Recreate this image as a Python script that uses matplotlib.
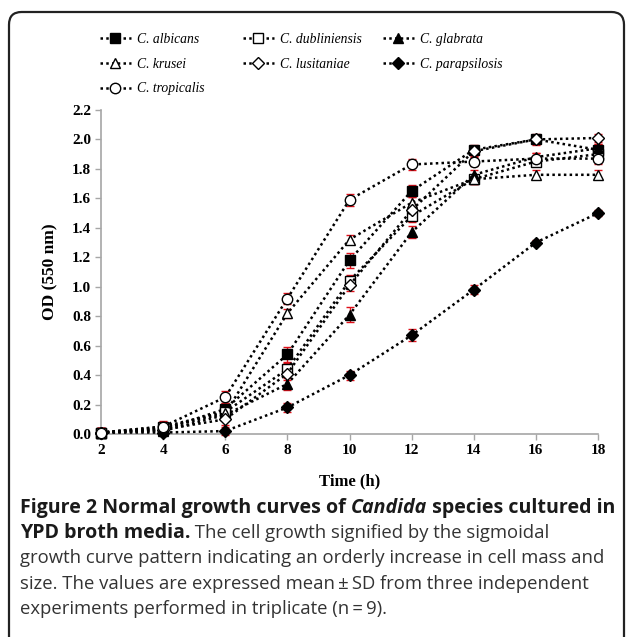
import numpy as np
import matplotlib
matplotlib.use("Agg")
from matplotlib import pyplot as plt
from matplotlib.patches import FancyBboxPatch

# time points (h)
hours = [2, 4, 6, 8, 10, 12, 14, 16, 18]

# mean OD (550 nm) per species
albicans     = [0.01, 0.03, 0.17, 0.54, 1.18, 1.65, 1.93, 2.00, 1.93]
dubliniensis = [0.01, 0.05, 0.15, 0.44, 1.04, 1.48, 1.73, 1.85, 1.90]
glabrata     = [0.01, 0.02, 0.13, 0.34, 0.81, 1.37, 1.76, 1.88, 1.94]
krusei       = [0.01, 0.04, 0.14, 0.82, 1.32, 1.57, 1.73, 1.76, 1.76]
lusitaniae   = [0.01, 0.03, 0.10, 0.41, 1.01, 1.52, 1.92, 2.00, 2.01]
parapsilosis = [0.01, 0.01, 0.02, 0.18, 0.40, 0.67, 0.98, 1.30, 1.50]
tropicalis   = [0.01, 0.05, 0.25, 0.92, 1.59, 1.83, 1.85, 1.87, 1.87]

# standard deviations
sd_albicans     = [0.03, 0.03, 0.04, 0.05, 0.05, 0.04, 0.03, 0.04, 0.04]
sd_dubliniensis = [0.03, 0.03, 0.03, 0.04, 0.04, 0.04, 0.03, 0.03, 0.03]
sd_glabrata     = [0.03, 0.03, 0.03, 0.04, 0.05, 0.04, 0.03, 0.03, 0.03]
sd_krusei       = [0.03, 0.03, 0.03, 0.03, 0.03, 0.04, 0.03, 0.03, 0.03]
sd_lusitaniae   = [0.03, 0.03, 0.04, 0.04, 0.04, 0.04, 0.03, 0.03, 0.03]
sd_parapsilosis = [0.02, 0.02, 0.03, 0.03, 0.03, 0.04, 0.03, 0.02, 0.02]
sd_tropicalis   = [0.03, 0.04, 0.04, 0.04, 0.04, 0.04, 0.03, 0.04, 0.04]

names = ["C. albicans", "C. dubliniensis", "C. glabrata", "C. krusei",
         "C. lusitaniae", "C. parapsilosis", "C. tropicalis"]
means = [albicans, dubliniensis, glabrata, krusei, lusitaniae, parapsilosis, tropicalis]
sds = [sd_albicans, sd_dubliniensis, sd_glabrata, sd_krusei, sd_lusitaniae,
       sd_parapsilosis, sd_tropicalis]
# marker, face colour, size
styles = [("s", "black", 7), ("s", "white", 7), ("^", "black", 7.5), ("^", "white", 7.5),
          ("D", "white", 6.5), ("D", "black", 6.5), ("o", "white", 7.5)]

y_ticks = [0.0, 0.2, 0.4, 0.6, 0.8, 1.0, 1.2, 1.4, 1.6, 1.8, 2.0, 2.2]
x_ticks = [2, 4, 6, 8, 10, 12, 14, 16, 18]

W, H = 629, 637
fig = plt.figure(figsize=(W / 100, H / 100), dpi=100)
ax = fig.add_axes([101 / W, 1 - 434 / H, (598 - 101) / W, (434 - 110) / H])

serif = "Liberation Serif"
grey = "#a6a6a6"

handles = []
for name, m, s, st in zip(names, means, sds, styles):
    ax.errorbar(hours, m, yerr=s, fmt="none", ecolor="#e0101a", elinewidth=1.0,
                capsize=3, capthick=1.0, zorder=2, clip_on=False)
    ln, = ax.plot(hours, m, linestyle=(0, (1, 1.3)), linewidth=1.8, color="black",
                  marker=st[0], markerfacecolor=st[1], markeredgecolor="black",
                  markeredgewidth=1.0, markersize=st[2], label=name, zorder=3,
                  clip_on=False)
    handles.append(ln)

ax.set_xlim(2, 18)
ax.set_ylim(0, 2.2)
ax.set_xticks(x_ticks)
ax.set_yticks(y_ticks)
ax.set_yticklabels(["%.1f" % v for v in y_ticks])
for sp in ["top", "right"]:
    ax.spines[sp].set_visible(False)
for sp in ["left", "bottom"]:
    ax.spines[sp].set_color(grey)
    ax.spines[sp].set_linewidth(1.2)
ax.tick_params(axis="both", direction="out", length=4, width=1, color=grey,
               labelsize=11, pad=3)
for lab in ax.get_xticklabels() + ax.get_yticklabels():
    lab.set_fontfamily(serif)
    lab.set_fontweight("bold")

ax.set_xlabel("Time (h)", fontfamily=serif, fontweight="bold", fontsize=12, labelpad=12)
ax.set_ylabel("OD (550 nm)", fontfamily=serif, fontweight="bold", fontsize=12.5, labelpad=10)

# legend: one column per legend box so columns sit at fixed places
col_x = [90, 233, 373]
cols = [[0, 3, 6], [1, 4], [2, 5]]
for cx, idx in zip(col_x, cols):
    fig.legend([handles[i] for i in idx], [names[i] for i in idx],
               loc="upper left", bbox_to_anchor=(cx / W, 1 - 23 / H),
               frameon=False, handlelength=2.3, handletextpad=0.45,
               labelspacing=0.88, numpoints=1, borderpad=0.2,
               prop={"family": serif, "style": "italic", "size": 9.8})

# rounded border box
box = FancyBboxPatch((9 / W, -0.05), (624 - 9) / W, 1.05 - 12 / H,
                     boxstyle="round,pad=0,rounding_size=0.02",
                     transform=fig.transFigure, fill=False, edgecolor="#222222",
                     linewidth=1.6, clip_on=False)
fig.patches.append(box)

# caption with mixed bold / italic pieces
renderer = fig.canvas.get_renderer()
cap_font = "Open Sans"


def put_line(x_px, y_px, parts):
    x = x_px / W
    for txt, weight, style, col, size in parts:
        t = fig.text(x, 1 - y_px / H, txt, fontfamily=cap_font, fontsize=size,
                     fontweight=weight, fontstyle=style, color=col, va="center")
        bb = t.get_window_extent(renderer)
        x = bb.x1 / W


blk = "#1a1a1a"
reg = "#333333"
bs, rs = 14.1, 13.3
put_line(20, 508, [("Figure 2 Normal growth curves of ", "bold", "normal", blk, bs),
                   ("Candida", "bold", "italic", blk, bs),
                   (" species cultured in", "bold", "normal", blk, bs)])
put_line(20, 533, [("YPD broth media.", "bold", "normal", blk, bs),
                   (" The cell growth signified by the sigmoidal", "normal", "normal", reg, rs)])
put_line(20, 558, [("growth curve pattern indicating an orderly increase in cell mass and",
                    "normal", "normal", reg, rs)])
put_line(20, 584, [("size. The values are expressed mean\u2009\u00b1\u2009SD from three independent",
                    "normal", "normal", reg, rs)])
put_line(20, 609, [("experiments performed in triplicate (n\u2009=\u20099).", "normal", "normal", reg, rs)])

fig.savefig("out.png", dpi=100)
